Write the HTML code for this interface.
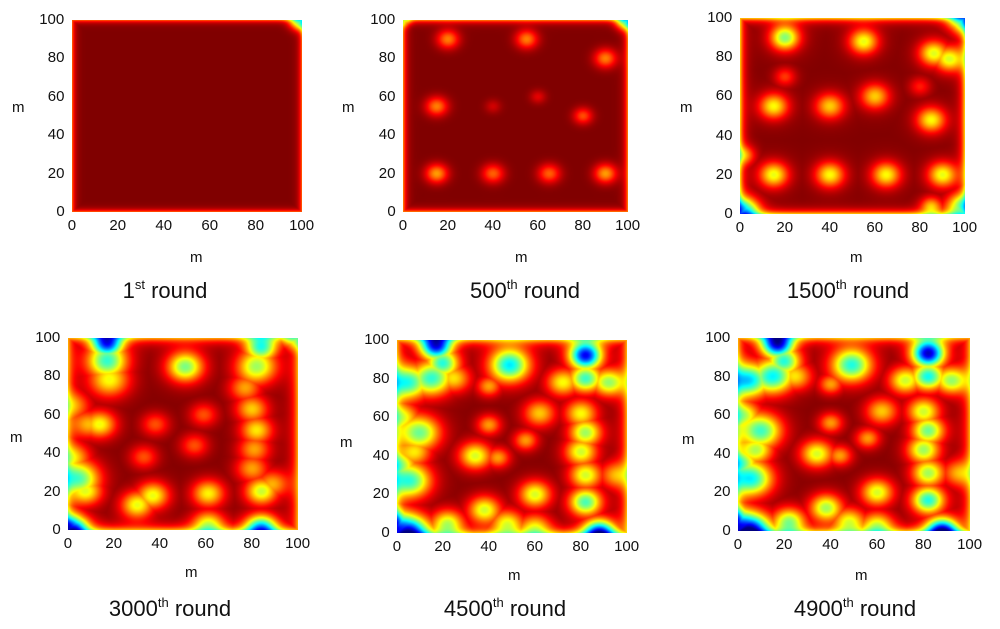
<!DOCTYPE html>
<html><head><meta charset="utf-8">
<style>
body{margin:0;background:#fff;width:1000px;height:629px;overflow:hidden;position:relative;font-family:"Liberation Sans",Arial,sans-serif;color:#111}
.lbl{position:absolute;font-size:15px;line-height:15px;white-space:nowrap}
.cap{position:absolute;font-size:22px;line-height:22px;white-space:nowrap;transform:translateX(-50%)}
.cap sup{font-size:13px;vertical-align:9px;line-height:0}
canvas{position:absolute}
</style></head><body>
<script>
// Blob data per panel: [x(m), y(m), amplitude, sigma(m)]
const r1 = [[99,99,0.45,3]];
const r500 = [[20,90,0.25,3.5],[55,90,0.25,3.5],[90,80,0.25,3.5],[15,55,0.25,3.5],[40,55,0.08,2.5],[60,60,0.1,2.5],[80,50,0.2,3],[15,20,0.28,3.5],[40,20,0.22,3.5],[65,20,0.22,3.5],[90,20,0.28,3.5],[99,99,0.45,3],[1,99,0.2,2]];
const r1500 = [[20,90,0.5,4],[55,88,0.4,4],[86,82,0.4,4],[93,79,0.4,4],[20,70,0.18,3],[15,55,0.38,4],[40,55,0.33,4],[60,60,0.33,4],[80,65,0.15,3],[85,48,0.38,4],[15,20,0.4,4],[40,20,0.38,4],[65,20,0.38,4],[90,20,0.4,4],[2,2,0.6,4],[98,4,0.45,4],[99,99,0.5,4],[85,4,0.3,3],[2,30,0.25,3]];
const r3000 = [[17,97,0.85,4],[17,88,0.6,5],[18,78,0.4,5],[84,95,0.6,4],[82,85,0.5,5],[77,74,0.3,4],
[51,85,0.55,4.5],[14,55,0.4,4],[9,55,0.3,4],[38,55,0.22,3.5],[59,60,0.22,3.5],[55,44,0.22,3.5],[33,38,0.22,3.5],
[5,27,0.55,5],[3,38,0.3,4],[8,20,0.4,4],[30,13,0.42,4],[37,18,0.42,4],[61,19,0.4,4],[61,3,0.4,4],
[80,63,0.35,4],[82,52,0.38,4],[81,42,0.3,4],[80,32,0.3,4],[84,20,0.45,4],[89,24,0.3,4],
[2,1,0.8,4],[84,1,0.7,4],[3,65,0.25,4],[98,99,0.3,3]];
const r4500 = [[17,97,0.9,4],[5,78,0.6,5],[15,80,0.6,5],[20,88,0.6,4],[25,80,0.35,4],
[49,87,0.7,5],[82,92,0.95,4],[82,80,0.6,4],[72,78,0.4,4],[92,78,0.5,4],
[10,52,0.55,5],[8,42,0.35,4],[6,27,0.6,5],[2,35,0.4,4],[3,60,0.35,4],
[5,1,0.85,5],[0,5,0.6,4],[38,12,0.45,4],[48,5,0.4,4],[22,5,0.45,4],[60,3,0.35,4],
[82,16,0.6,4],[88,0,0.85,4],[80,62,0.4,4],[82,52,0.5,4],[80,42,0.45,4],[82,30,0.45,4],[95,30,0.3,4],
[40,76,0.3,3],[40,56,0.3,3],[34,40,0.45,4],[44,39,0.3,3],[62,62,0.35,4],[56,48,0.3,3],[60,20,0.45,4]];
const r4900 = [[17,97,0.95,4],[5,78,0.65,5],[15,80,0.65,5],[20,88,0.6,4],[25,80,0.35,4],
[49,86,0.65,5],[82,92,1.0,4],[82,80,0.65,4],[72,78,0.45,4],[92,78,0.5,4],
[10,52,0.6,5],[8,42,0.45,4],[6,27,0.65,5],[2,35,0.45,4],[3,60,0.4,4],[2,80,0.3,4],
[5,1,0.9,5],[0,5,0.6,4],[38,12,0.5,4],[48,5,0.4,4],[22,5,0.5,4],[60,3,0.4,4],
[82,16,0.65,4],[88,0,0.9,4],[80,62,0.45,4],[82,52,0.55,4],[80,42,0.5,4],[82,30,0.5,4],[95,30,0.3,4],
[40,76,0.3,3],[40,56,0.3,3],[34,40,0.45,4],[44,39,0.3,3],[62,62,0.35,4],[56,48,0.3,3],[60,20,0.45,4]];
const ticks = [0,20,40,60,80,100];
const panels = [
 {id:"1st",sup:"st",num:"1",blobs:r1,sf:1,halo:0,as:1,x0:72,x1:302,y0:212,y1:20,ea:0.25,ew:1.2,cx:165,cy:280,mx:190,my:250,ylx:12,yly:100},
 {id:"500th",sup:"th",num:"500",blobs:r500,sf:1,halo:0,as:1,x0:403,x1:628,y0:212,y1:20,ea:0.28,ew:1.4,cx:525,cy:280,mx:515,my:250,ylx:342,yly:100},
 {id:"1500th",sup:"th",num:"1500",blobs:r1500,sf:1.1,halo:0.1,as:0.9,x0:740,x1:965,y0:214,y1:18,ea:0.35,ew:1.8,cx:848,cy:280,mx:850,my:250,ylx:680,yly:100},
 {id:"3000th",sup:"th",num:"3000",blobs:r3000,sf:1.2,halo:0.08,as:0.85,x0:68,x1:298,y0:530,y1:338,ea:0.3,ew:2.5,cx:170,cy:598,mx:185,my:565,ylx:10,yly:430},
 {id:"4500th",sup:"th",num:"4500",blobs:r4500,sf:1.2,halo:0.08,as:0.85,x0:397,x1:627,y0:533,y1:340,ea:0.3,ew:2.5,cx:505,cy:598,mx:508,my:568,ylx:340,yly:435},
 {id:"4900th",sup:"th",num:"4900",blobs:r4900,sf:1.2,halo:0.08,as:0.85,x0:738,x1:970,y0:531,y1:338,ea:0.3,ew:2.5,cx:855,cy:598,mx:855,my:568,ylx:682,yly:432}
];
function cl(v){return v<0?0:v>1?1:v;}
function jet(t){return [cl(1.5-Math.abs(4*t-3)),cl(1.5-Math.abs(4*t-2)),cl(1.5-Math.abs(4*t-1))];}
panels.forEach(function(p,i){
  const sx=function(v){return p.x0+(p.x1-p.x0)*v/100;};
  const sy=function(v){return p.y0+(p.y1-p.y0)*v/100;};
  const L=Math.round(sx(0)),T=Math.round(sy(100)),W=Math.round(sx(100))-L,H=Math.round(sy(0))-T;
  const c=document.createElement('canvas');
  
  
  c.width=W;c.height=H;c.style.left=L+'px';c.style.top=T+'px';
  const ctx=c.getContext('2d');const img=ctx.createImageData(W,H);
  for(let py=0;py<H;py++)for(let px=0;px<W;px++){
    const mx=(px+0.5)/W*100,my=100-(py+0.5)/H*100;
    let mxc=0,sum=0;
    p.blobs.forEach(function(b){
      const dx=mx-b[0],dy=my-b[1],r2=dx*dx+dy*dy,s=b[3]*p.sf,a=b[2]*p.as;
      const c2=a*Math.exp(-r2/(2*s*s))+p.halo*a*Math.exp(-r2/(8*s*s));
      sum+=c2;if(c2>mxc)mxc=c2;
    });
    let v=1-mxc-0.1*(sum-mxc);
    const d=Math.min(mx,100-mx,my,100-my);
    v-=p.ea*Math.exp(-d/p.ew);
    const col=jet(cl(v));const k=(py*W+px)*4;
    img.data[k]=col[0]*255;img.data[k+1]=col[1]*255;img.data[k+2]=col[2]*255;img.data[k+3]=255;
  }
  ctx.putImageData(img,0,0);
  document.body.appendChild(c);
  ticks.forEach(function(t){
    const a=document.createElement('div');a.className='lbl';a.textContent=t;
    
    
    a.style.left=(sx(t)-(String(t).length*4.3))+'px';a.style.top=(p.y0+6)+'px';document.body.appendChild(a);
    const b=document.createElement('div');b.className='lbl';b.textContent=t;
    
    
    b.style.left=(p.x0-7-String(t).length*8.6)+'px';b.style.top=(sy(t)-8)+'px';document.body.appendChild(b);
  });
  const xm=document.createElement('div');xm.className='lbl';xm.textContent='m';
  
  
  xm.style.left=p.mx+'px';xm.style.top=p.my+'px';document.body.appendChild(xm);
  const ym=document.createElement('div');ym.className='lbl';ym.textContent='m';
  
  
  ym.style.left=p.ylx+'px';ym.style.top=p.yly+'px';document.body.appendChild(ym);
  const cap=document.createElement('div');cap.className='cap';
  
  
  cap.innerHTML=p.num+'<sup>'+p.sup+'</sup> round';
  cap.style.left=p.cx+'px';cap.style.top=p.cy+'px';document.body.appendChild(cap);
});
</script>
</body></html>
